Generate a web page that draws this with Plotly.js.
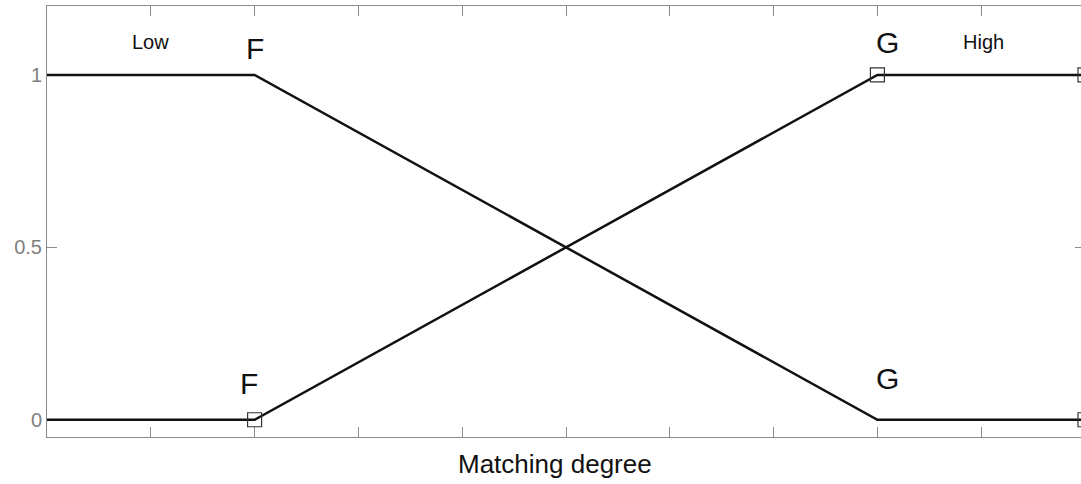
<!DOCTYPE html>
<html>
<head>
<meta charset="utf-8">
<script src="https://cdn.plot.ly/plotly-3.0.1.min.js"></script>
<style>
html, body { margin: 0; padding: 0; overflow: hidden; background: #fff; }
#chart { width: 1090px; height: 484px; }
</style>
</head>
<body>
<div id="chart"></div>
<script>
// Membership functions on "Matching degree"
const lowX = [0, 0.2, 0.8, 1];
const lowY = [1, 1, 0, 0];
const highX = [0, 0.2, 0.8, 1];
const highY = [0, 0, 1, 1];
// vertices drawn with square markers
const markX = [0.2, 0.8, 1, 1];
const markY = [0, 1, 1, 0];
// text labels
const labelText = ['Low', 'F', 'G', 'High', 'F', 'G'];
const labelX = [0.1, 0.2, 0.81, 0.902, 0.195, 0.81];
const labelY = [1.096, 1.078, 1.093, 1.096, 0.105, 0.119];
const labelSize = [20, 30, 30, 20, 30, 30];
const yTickVals = [0, 0.5, 1];
const yTickText = ['0', '0.5', '1'];
const xTickVals = [0, 0.1, 0.2, 0.3, 0.4, 0.5, 0.6, 0.7, 0.8, 0.9, 1];
const xTitle = 'Matching degree';

const axisColor = '#8c8c8c';
const FONT = 'Liberation Sans, Arial, sans-serif';

const traces = [
  { x: lowX, y: lowY, mode: 'lines', line: { color: '#111', width: 2.5 }, hoverinfo: 'skip' },
  { x: highX, y: highY, mode: 'lines', line: { color: '#111', width: 2.5 }, hoverinfo: 'skip' },
  { x: markX, y: markY, mode: 'markers', cliponaxis: false,
    marker: { symbol: 'square-open', size: 14, color: '#333', line: { width: 1.2, color: '#333' } },
    hoverinfo: 'skip' }
];

const annotations = labelText.map((t, i) => ({
  x: labelX[i], y: labelY[i], xref: 'x', yref: 'y', text: t, showarrow: false,
  xanchor: 'center', yanchor: 'middle',
  font: { family: FONT, size: labelSize[i], color: '#111' }
}));
annotations.push({
  x: 0.4894, y: 0, xref: 'paper', yref: 'paper', yshift: -10, text: xTitle, showarrow: false,
  xanchor: 'center', yanchor: 'top',
  font: { family: FONT, size: 26, color: '#111' }
});

const layout = {
  width: 1090, height: 484,
  margin: { l: 47, r: 5, t: 6, b: 47, pad: 0 },
  paper_bgcolor: '#fff', plot_bgcolor: '#fff',
  showlegend: false,
  font: { family: FONT },
  xaxis: {
    range: [0, 1], tickvals: xTickVals, showticklabels: false,
    ticks: 'inside', ticklen: 10, tickcolor: axisColor, tickwidth: 1,
    showline: true, linecolor: axisColor, linewidth: 1, mirror: 'ticks',
    showgrid: false, zeroline: false, layer: 'below traces'
  },
  yaxis: {
    range: [-0.05, 1.2], tickvals: yTickVals, ticktext: yTickText,
    ticks: 'inside', ticklen: 10, tickcolor: axisColor, tickwidth: 1,
    showline: true, linecolor: axisColor, linewidth: 1, mirror: 'ticks',
    showgrid: false, zeroline: false, layer: 'below traces',
    tickfont: { family: FONT, size: 20, color: '#7f7f7f' }
  },
  annotations: annotations
};

Plotly.newPlot('chart', traces, layout, { staticPlot: true, displayModeBar: false });
</script>
</body>
</html>
